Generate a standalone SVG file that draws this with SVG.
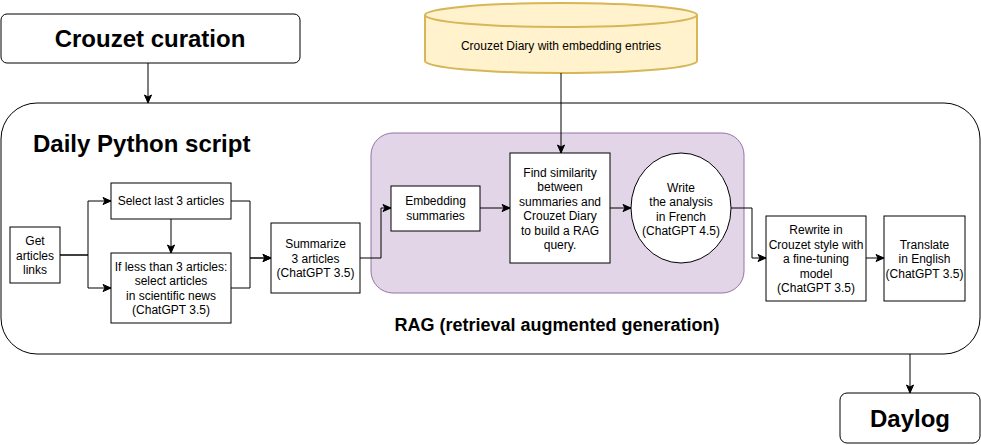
<svg xmlns="http://www.w3.org/2000/svg" width="981" height="445" viewBox="0 0 981 445">
<defs>
<marker id="arr" markerUnits="userSpaceOnUse" markerWidth="10" markerHeight="10" viewBox="0 0 10 10" refX="9" refY="5" orient="auto">
<path d="M1,1.5 L9,5 L1,8.5 L3,5 Z" fill="#000" stroke="#000" stroke-width="1"/>
</marker>
<style>
text{font-family:"Liberation Sans",Arial,Helvetica,sans-serif;fill:#000;}
.t{font-size:12px;text-anchor:middle;}
.title{font-size:24px;font-weight:bold;}
.box{fill:#fff;stroke:#000;stroke-width:1;}
.conn path{fill:none;stroke:#000;stroke-width:1;marker-end:url(#arr);}
</style>
</defs>
<rect width="981" height="445" fill="#fff"/>

<g id="daily-python-script">
<rect x="1" y="103" width="979" height="251" rx="36" ry="36" class="box"/>
<text x="33" y="152" class="title">Daily Python script</text>
</g>

<g id="rag">
<rect x="371" y="133" width="373" height="160" rx="22" ry="22" fill="#e1d5e7" stroke="#9673a6" stroke-width="1"/>
<text x="557" y="331" font-size="18" font-weight="bold" text-anchor="middle">RAG (retrieval augmented generation)</text>
</g>

<g id="crouzet-curation">
<rect x="1" y="14" width="299" height="49" rx="6" ry="6" class="box"/>
<text x="150" y="47" class="title" text-anchor="middle">Crouzet curation</text>
</g>

<g id="crouzet-diary">
<path d="M425,15 A136,12 0 0,1 697,15 V61 A136,12 0 0,1 425,61 Z" fill="#fff2cc" stroke="#d6b656" stroke-width="2"/>
<path d="M425,15 A136,12 0 0,0 697,15" fill="none" stroke="#d6b656" stroke-width="2"/>
<text x="561" y="50" class="t">Crouzet Diary with embedding entries</text>
</g>

<g id="get-articles">
<rect x="10" y="227" width="50" height="56" class="box"/>
<text class="t"><tspan x="35" y="245">Get</tspan><tspan x="35" y="259.5">articles</tspan><tspan x="35" y="274">links</tspan></text>
</g>

<g id="select-last">
<rect x="111" y="183" width="120" height="36" class="box"/>
<text x="171" y="205" class="t">Select last 3 articles</text>
</g>

<g id="select-scientific">
<rect x="111" y="253" width="120" height="70" class="box"/>
<text class="t"><tspan x="171" y="270.5">If less than 3 articles:</tspan><tspan x="171" y="285">select articles</tspan><tspan x="171" y="299.5">in scientific news</tspan><tspan x="171" y="314">(ChatGPT 3.5)</tspan></text>
</g>

<g id="summarize">
<rect x="271" y="223" width="89" height="70" class="box"/>
<text class="t"><tspan x="315.5" y="248">Summarize</tspan><tspan x="315.5" y="262.5">3 articles</tspan><tspan x="315.5" y="277">(ChatGPT 3.5)</tspan></text>
</g>

<g id="embedding">
<rect x="391" y="186" width="89" height="45" class="box"/>
<text class="t"><tspan x="435.5" y="205">Embedding</tspan><tspan x="435.5" y="219.5">summaries</tspan></text>
</g>

<g id="find-similarity">
<rect x="510" y="153" width="100" height="110" class="box"/>
<text class="t"><tspan x="560" y="176.5">Find similarity</tspan><tspan x="560" y="191">between</tspan><tspan x="560" y="205.5">summaries and</tspan><tspan x="560" y="220">Crouzet Diary</tspan><tspan x="560" y="234.5">to build a RAG</tspan><tspan x="560" y="249">query.</tspan></text>
</g>

<g id="write-analysis">
<ellipse cx="681" cy="208" rx="50" ry="55" class="box"/>
<text class="t"><tspan x="681" y="191.5">Write</tspan><tspan x="681" y="206">the analysis</tspan><tspan x="681" y="220.5">in French</tspan><tspan x="681" y="235">(ChatGPT 4.5)</tspan></text>
</g>

<g id="rewrite">
<rect x="766" y="216" width="100" height="85" class="box"/>
<text class="t"><tspan x="816" y="234">Rewrite in</tspan><tspan x="816" y="248.5">Crouzet style with</tspan><tspan x="816" y="263">a fine-tuning</tspan><tspan x="816" y="277.5">model</tspan><tspan x="816" y="292">(ChatGPT 3.5)</tspan></text>
</g>

<g id="translate">
<rect x="884" y="216" width="81" height="85" class="box"/>
<text class="t"><tspan x="924.5" y="248.5">Translate</tspan><tspan x="924.5" y="263">in English</tspan><tspan x="924.5" y="277.5">(ChatGPT 3.5)</tspan></text>
</g>

<g id="daylog">
<rect x="840" y="393" width="140" height="50" rx="7" ry="7" class="box"/>
<text x="910" y="427" class="title" text-anchor="middle">Daylog</text>
</g>

<g id="connectors" class="conn">
<path d="M148,63 V103"/>
<path d="M561,73 V153"/>
<path d="M60,255 H88 V201 H111"/>
<path d="M60,255 H88 V288 H111"/>
<path d="M171,219 V253"/>
<path d="M231,201 H250 V258 H271"/>
<path d="M231,288 H250 V258 H271"/>
<path d="M360,258 H381 V208 H391"/>
<path d="M480,208 H510"/>
<path d="M610,208 H631"/>
<path d="M731,208 H752 V258 H766"/>
<path d="M866,258 H884"/>
<path d="M910,354 V393"/>
</g>
</svg>
